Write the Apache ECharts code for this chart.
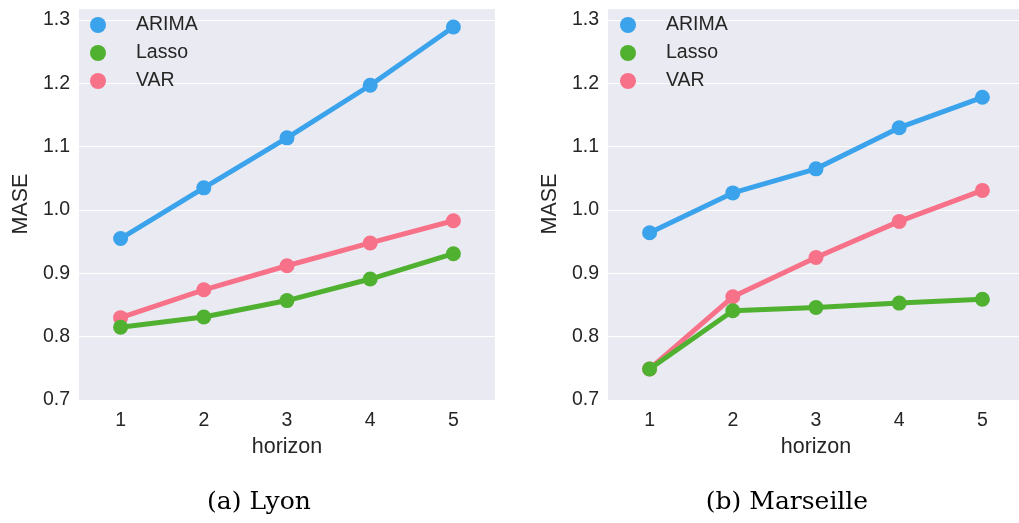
<!DOCTYPE html>
<html><head><meta charset="utf-8">
<script src="https://cdn.jsdelivr.net/npm/echarts@6/dist/echarts.min.js"></script>
<style>html,body{margin:0;padding:0;background:#fff}#c{width:1019px;height:523px}</style>
</head><body><div id="c"></div>
<script>
const horizons = ['1','2','3','4','5'];
const lyonARIMA = [0.955, 1.035, 1.114, 1.197, 1.289];
const lyonLasso = [0.815, 0.831, 0.857, 0.891, 0.931];
const lyonVAR = [0.830, 0.874, 0.912, 0.948, 0.983];
const marARIMA = [0.964, 1.027, 1.065, 1.130, 1.178];
const marLasso = [0.749, 0.841, 0.846, 0.853, 0.859];
const marVAR = [0.749, 0.863, 0.925, 0.982, 1.031];
const yTicks = [0.7, 0.8, 0.9, 1.0, 1.1, 1.2, 1.3];
const captions = ['(a) Lyon', '(b) Marseille'];
const names = ['ARIMA', 'Lasso', 'VAR'];
const colors = {ARIMA: '#3ba3ec', Lasso: '#50b131', VAR: '#f77189'};

const font = 'Liberation Sans, Arial, sans-serif';
const chart = echarts.init(document.getElementById('c'), null, {renderer: 'canvas'});
function xAx(i) {
  return {
    type: 'category', gridIndex: i, data: horizons, boundaryGap: true,
    name: 'horizon', nameLocation: 'middle', nameGap: 36,
    nameTextStyle: {fontFamily: font, fontSize: 21.5, color: '#262626'},
    axisLine: {show: false}, axisTick: {show: false},
    axisLabel: {fontFamily: font, fontSize: 19.5, color: '#262626', margin: 11},
    splitLine: {show: false}
  };
}
function yAx(i) {
  return {
    type: 'value', gridIndex: i, min: 0.7, max: 1.319, interval: 0.1,
    name: 'MASE', nameLocation: 'middle', nameGap: 47,
    nameTextStyle: {fontFamily: font, fontSize: 21.5, color: '#262626'},
    axisLine: {show: false}, axisTick: {show: false},
    axisLabel: {fontFamily: font, fontSize: 19.5, color: '#262626', margin: 9,
      formatter: v => yTicks.some(t => Math.abs(t - v) < 1e-6) ? v.toFixed(1) : ''},
    splitLine: {show: true, lineStyle: {color: '#ffffff', width: 1.2}}
  };
}
function ser(name, data, i) {
  return {
    name, type: 'line', xAxisIndex: i, yAxisIndex: i, data,
    symbol: 'circle', symbolSize: 15, color: colors[name],
    lineStyle: {width: 5, color: colors[name]},
    itemStyle: {color: colors[name]}, z: name === 'Lasso' ? 4 : 3,
    emphasis: {disabled: true}, animation: false
  };
}
function leg(left) {
  return {
    left, top: 10, orient: 'vertical', icon: 'circle', itemWidth: 16, itemHeight: 16,
    itemGap: 8, data: names,
    textStyle: {fontFamily: font, fontSize: 19.5, color: '#262626', padding: [0, 0, 0, 25]}
  };
}
chart.setOption({
  animation: false,
  backgroundColor: '#ffffff',
  title: [
    {text: captions[0], left: 254, top: 485, textAlign: 'center',
     textStyle: {fontFamily: 'DejaVu Serif, serif', fontSize: 25, fontWeight: 'normal', color: '#000'}},
    {text: captions[1], left: 782, top: 485, textAlign: 'center',
     textStyle: {fontFamily: 'DejaVu Serif, serif', fontSize: 25, fontWeight: 'normal', color: '#000'}}
  ],
  legend: [leg(85), leg(615)],
  grid: [
    {left: 79, top: 8, width: 416, height: 392, show: true, backgroundColor: '#eaeaf2', borderWidth: 0, outerBoundsMode: 'none', containLabel: false},
    {left: 608, top: 8, width: 416, height: 392, show: true, backgroundColor: '#eaeaf2', borderWidth: 0, outerBoundsMode: 'none', containLabel: false}
  ],
  xAxis: [xAx(0), xAx(1)],
  yAxis: [yAx(0), yAx(1)],
  series: [
    ser('ARIMA', lyonARIMA, 0), ser('Lasso', lyonLasso, 0), ser('VAR', lyonVAR, 0),
    ser('ARIMA', marARIMA, 1), ser('VAR', marVAR, 1), ser('Lasso', marLasso, 1)
  ]
});
</script></body></html>
